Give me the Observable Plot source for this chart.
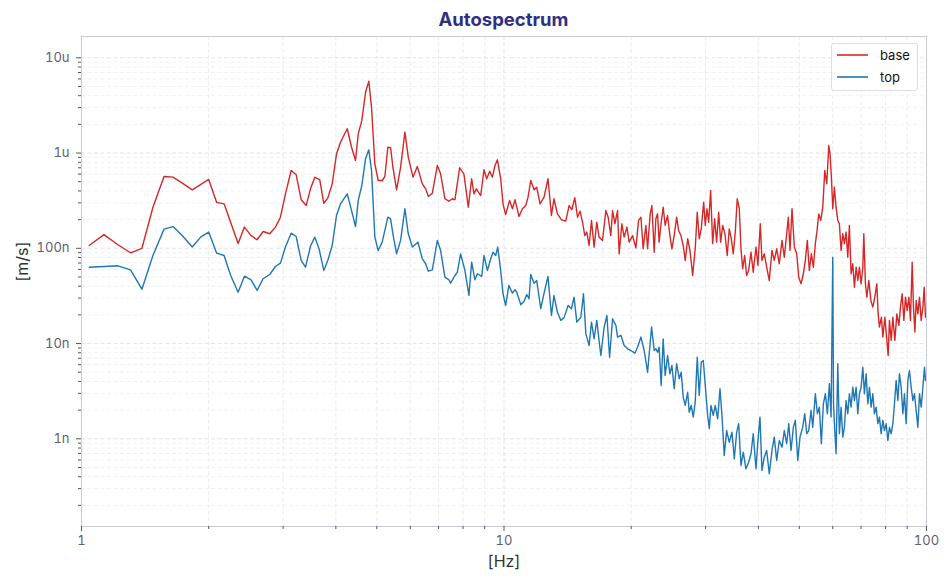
<!DOCTYPE html>
<html>
<head>
<meta charset="utf-8">
<script src="https://cdn.jsdelivr.net/npm/d3@7"></script>
<script src="https://cdn.jsdelivr.net/npm/@observablehq/plot@0.6"></script>
<style>
  html, body { margin: 0; padding: 0; background: #fff; }
  #wrap { position: relative; width: 949px; height: 587px; font-family: Inter, "DejaVu Sans", sans-serif; }
  #title { height: 30px; width: 845px; margin-left: 81px; text-align: center; font-weight: 700; font-size: 18.5px; line-height: 39px; color: #2f2f82; }
  #legend { position: absolute; left: 831px; top: 43px; width: 85px; height: 46px; border: 1px solid #dcdde3; border-radius: 3px; background: #fff; font-size: 13px; color: #111; }
  .row { position: absolute; left: 0; height: 20px; display: flex; align-items: center; }
  .row svg { margin-left: 5px; }
  .row span { margin-left: 12px; }
</style>
</head>
<body>
<div id="wrap">
  <div id="title">Autospectrum</div>
  <div id="chart"></div>
  <div id="legend"></div>
</div>
<script>
// ---- data: frequency [Hz] and autospectrum [m/s] ----
const baseHz = [
  1.043,1.130,1.220,1.306,1.390,1.476,1.568,1.647,1.729,1.829,
  2.000,2.089,2.175,2.348,2.430,2.520,2.604,2.691,2.790,2.877,
  2.957,3.039,3.135,3.222,3.311,3.402,3.483,3.566,3.664,3.745,
  3.827,3.921,4.014,4.102,4.256,4.357,4.452,4.519,4.608,4.702,
  4.787,4.858,4.946,5.039,5.149,5.224,5.310,5.390,
  5.458,5.569,5.692,5.827,5.935,6.090,6.235,6.407,6.524,6.622,
  6.767,6.954,7.079,7.247,7.407,7.545,7.653,7.852,8.037,8.232,
  8.383,8.489,8.601,8.808,8.966,9.100,9.250,9.386,9.521,9.647,
  9.822,9.945,10.09,10.31,10.47,10.62,
  10.85,11.06,11.26,11.40,11.57,11.78,11.95,12.17,12.44,12.71,
  12.95,13.13,13.38,13.68,14.00,14.26,14.47,14.71,14.93,15.14,
  15.34,15.53,15.70,15.90,16.11,16.34,16.58,16.79,17.11,17.42,
  17.64,17.90,18.07,18.30,18.57,18.73,19.01,19.25,19.54,19.78,
  20.15,20.52,20.82,21.09,21.35,21.67,21.87,22.18,22.39,22.67,
  22.88,23.09,23.29,23.51,23.81,24.07,24.39,24.70,24.97,25.28,
  25.62,25.90,26.23,26.56,26.85,27.21,27.55,27.96,28.35,28.67,
  28.98,29.30,29.69,29.95,30.23,30.51,30.84,31.18,31.52,31.86,
  32.22,32.57,32.93,33.34,33.76,34.13,34.51,34.88,35.27,35.65,
  36.05,36.38,36.72,37.12,37.52,37.93,38.42,
  38.90,39.48,39.91,40.42,40.79,41.31,41.85,42.45,43.08,43.62,
  44.20,44.83,45.50,46.07,46.68,47.09,47.53,48.05,48.66,49.30,
  49.84,50.47,51.11,51.67,52.23,52.81,53.39,53.97,54.57,55.08,
  55.59,56.20,56.82,57.44,58.07,58.71,59.12,59.55,60.00,60.53,
  61.09,61.66,62.20,62.78,63.37,63.92,64.52,65.12,65.69,66.30,
  66.92,67.51,68.14,68.77,69.38,70.02,70.68,71.06,71.69,72.24,
  73.03,73.83,74.64,75.46,76.28,76.83,77.38,78.23,78.83,79.70,
  80.57,81.14,81.72,82.49,83.25,84.16,85.08,86.02,86.77,87.58,
  88.39,89.17,90.00,90.84,91.63,92.49,93.15,93.87,94.53,95.41,
  96.25,97.14,98.05,98.75,99.45
];
const baseVal = [
  1.07e-7,1.39e-7,1.09e-7,8.97e-8,1.00e-7,2.70e-7,5.67e-7,5.58e-7,4.87e-7,4.11e-7,
  5.28e-7,3.03e-7,2.93e-7,1.12e-7,1.67e-7,1.36e-7,1.23e-7,1.50e-7,1.42e-7,1.67e-7,
  2.12e-7,3.73e-7,6.56e-7,5.91e-7,3.23e-7,2.81e-7,4.21e-7,5.58e-7,5.24e-7,2.97e-7,
  3.36e-7,4.75e-7,9.82e-7,1.30e-6,1.80e-6,1.15e-6,8.35e-7,1.59e-6,2.20e-6,4.35e-6,
  5.68e-6,3.03e-6,7.71e-7,5.15e-7,5.15e-7,5.67e-7,1.15e-6,1.14e-6,
  7.10e-7,4.11e-7,7.10e-7,1.66e-6,9.05e-7,5.58e-7,7.22e-7,4.75e-7,4.21e-7,3.50e-7,
  3.79e-7,7.40e-7,6.05e-7,3.31e-7,3.12e-7,3.31e-7,3.23e-7,7.00e-7,6.05e-7,2.70e-7,
  5.37e-7,3.73e-7,4.21e-7,3.58e-7,6.67e-7,5.37e-7,6.45e-7,5.58e-7,7.40e-7,8.49e-7,
  5.37e-7,2.93e-7,2.26e-7,3.18e-7,2.60e-7,3.23e-7,
  2.16e-7,2.60e-7,2.81e-7,3.44e-7,5.15e-7,4.11e-7,4.38e-7,2.93e-7,3.44e-7,5.37e-7,
  2.21e-7,3.31e-7,2.30e-7,1.99e-7,1.93e-7,2.81e-7,2.54e-7,3.39e-7,2.12e-7,2.45e-7,
  1.88e-7,1.36e-7,1.48e-7,1.07e-7,1.96e-7,1.03e-7,1.88e-7,1.31e-7,1.21e-7,2.49e-7,
  2.12e-7,1.36e-7,2.49e-7,1.81e-7,2.49e-7,8.75e-8,1.81e-7,1.31e-7,1.67e-7,1.16e-7,
  1.36e-7,1.01e-7,1.96e-7,2.12e-7,9.88e-8,1.74e-7,9.88e-8,2.30e-7,2.81e-7,9.10e-8,
  2.04e-7,2.30e-7,1.16e-7,1.74e-7,2.70e-7,1.74e-7,2.21e-7,1.36e-7,9.88e-8,1.36e-7,
  2.12e-7,1.54e-7,1.36e-7,1.07e-7,7.45e-8,1.26e-7,9.48e-8,5.18e-8,9.88e-8,2.39e-7,
  1.26e-7,1.60e-7,3.05e-7,1.74e-7,2.60e-7,1.88e-7,4.05e-7,1.12e-7,2.04e-7,1.16e-7,
  2.39e-7,1.16e-7,1.74e-7,1.42e-7,8.40e-8,1.60e-7,1.26e-7,8.75e-8,1.48e-7,3.31e-7,
  2.60e-7,9.88e-8,6.09e-8,8.40e-8,5.18e-8,5.85e-8,9.10e-8,
  5.61e-8,1.03e-7,6.60e-8,1.81e-7,7.45e-8,8.75e-8,6.33e-8,4.59e-8,9.48e-8,7.45e-8,
  9.88e-8,6.88e-8,1.21e-7,8.06e-8,1.42e-7,2.12e-7,9.48e-8,2.60e-7,1.03e-7,8.75e-8,
  4.97e-8,4.24e-8,5.40e-8,7.45e-8,1.21e-7,5.85e-8,8.75e-8,6.33e-8,1.12e-7,1.54e-7,
  2.30e-7,1.96e-7,2.70e-7,6.56e-7,4.76e-7,1.20e-6,9.82e-7,5.58e-7,2.60e-7,4.38e-7,
  2.70e-7,1.96e-7,1.81e-7,9.48e-8,1.42e-7,1.12e-7,1.48e-7,8.06e-8,1.74e-7,5.40e-8,
  6.88e-8,3.90e-8,6.33e-8,4.59e-8,6.33e-8,4.24e-8,6.33e-8,1.42e-7,4.24e-8,3.07e-8,
  4.59e-8,2.83e-8,2.41e-8,3.07e-8,4.24e-8,2.05e-8,1.49e-8,1.89e-8,1.17e-8,1.89e-8,
  1.08e-8,7.49e-9,1.75e-8,1.08e-8,1.89e-8,1.08e-8,2.05e-8,1.55e-8,2.41e-8,3.33e-8,
  1.75e-8,3.07e-8,2.22e-8,3.07e-8,1.75e-8,7.15e-8,2.41e-8,1.32e-8,2.83e-8,2.05e-8,
  3.07e-8,1.75e-8,2.41e-8,3.90e-8,1.89e-8
];
const topHz = [
  1.043,1.130,1.220,1.306,1.390,1.476,1.568,1.647,1.729,1.829,
  1.914,2.000,2.089,2.175,2.255,2.348,2.430,2.520,2.604,2.691,
  2.790,2.877,2.957,3.039,3.135,3.222,3.311,3.390,3.483,3.566,
  3.650,3.745,3.827,3.921,4.014,4.102,4.256,4.357,4.452,4.519,
  4.608,4.702,4.787,4.858,4.947,5.036,5.149,5.310,5.390,
  5.458,5.569,5.692,5.827,5.935,6.070,6.255,6.407,6.524,6.622,
  6.767,6.954,7.079,7.247,7.407,7.476,7.611,7.754,7.895,8.082,
  8.260,8.383,8.535,8.650,8.857,8.966,9.135,9.302,9.417,9.557,
  9.663,9.822,9.945,10.09,10.27,10.47,10.62,
  10.72,10.96,11.15,11.32,11.46,11.57,11.78,11.95,12.22,12.44,
  12.71,12.95,13.13,13.38,13.63,13.87,14.18,14.44,14.65,14.87,
  15.20,15.42,15.62,15.90,16.11,16.34,16.58,16.95,17.26,17.52,
  17.78,18.07,18.40,18.57,18.91,19.25,19.61,19.96,20.40,20.71,
  21.09,21.47,21.87,22.35,22.67,
  22.88,23.09,23.29,23.55,23.81,24.07,24.39,24.70,24.97,25.28,
  25.62,25.99,26.27,26.56,26.85,27.21,27.44,27.74,28.05,28.35,
  28.67,28.98,29.30,29.62,29.95,30.34,30.61,30.89,31.28,31.62,
  32.04,32.45,32.80,33.21,33.65,34.13,34.64,35.08,35.54,35.93,
  36.38,36.84,37.38,37.93,38.42,
  38.90,39.48,39.91,40.35,40.79,41.31,41.85,42.45,43.08,43.62,
  44.20,44.83,45.50,46.07,46.68,47.20,47.79,48.40,48.93,49.58,
  50.19,50.93,51.50,52.06,52.63,53.30,53.80,54.57,55.17,55.77,
  56.38,57.00,57.63,58.26,58.90,59.45,60.00,60.25,60.66,61.09,
  61.66,62.20,
  62.78,63.37,63.92,64.52,65.12,65.69,66.30,66.92,67.51,68.14,
  68.77,69.38,70.02,70.68,71.29,71.96,72.63,73.27,73.95,74.64,
  75.29,75.99,76.70,77.38,78.10,78.83,79.53,80.27,81.01,81.72,
  82.49,83.25,83.98,84.76,85.55,86.30,87.10,87.91,88.68,89.51,
  90.34,91.13,91.98,92.84,93.66,94.53,95.41,96.25,97.14,98.05,
  98.91,99.45
];
const topVal = [
  6.33e-8,6.45e-8,6.55e-8,5.94e-8,3.72e-8,8.40e-8,1.59e-7,1.69e-7,1.37e-7,1.03e-7,
  1.31e-7,1.48e-7,8.89e-8,8.40e-8,5.18e-8,3.46e-8,5.09e-8,4.67e-8,3.61e-8,4.79e-8,
  5.31e-8,6.44e-8,6.98e-8,1.03e-7,1.44e-7,1.33e-7,7.45e-8,6.33e-8,1.05e-7,1.31e-7,
  9.88e-8,5.85e-8,7.45e-8,1.07e-7,2.21e-7,2.93e-7,3.73e-7,2.49e-7,1.69e-7,3.18e-7,
  4.56e-7,8.70e-7,1.08e-6,6.56e-7,1.31e-7,9.48e-8,1.16e-7,2.12e-7,2.04e-7,
  1.42e-7,8.75e-8,1.21e-7,2.60e-7,1.42e-7,1.03e-7,1.16e-7,7.76e-8,6.88e-8,5.75e-8,
  5.94e-8,1.21e-7,9.48e-8,4.97e-8,4.67e-8,4.30e-8,4.97e-8,5.61e-8,8.75e-8,5.85e-8,
  3.20e-8,7.15e-8,4.67e-8,5.40e-8,5.06e-8,8.40e-8,5.85e-8,7.76e-8,9.10e-8,8.40e-8,
  1.03e-7,5.85e-8,3.33e-8,2.51e-8,4.07e-8,3.38e-8,3.67e-8,
  3.46e-8,2.55e-8,2.76e-8,3.27e-8,2.95e-8,5.31e-8,4.30e-8,4.59e-8,2.32e-8,3.38e-8,
  5.06e-8,1.97e-8,3.19e-8,2.13e-8,1.75e-8,1.87e-8,2.51e-8,2.32e-8,3.07e-8,1.68e-8,
  1.89e-8,3.33e-8,1.27e-8,9.54e-9,1.68e-8,1.12e-8,1.75e-8,7.49e-9,1.49e-8,1.97e-8,
  7.19e-9,1.82e-8,1.55e-8,1.17e-8,1.22e-8,9.54e-9,8.81e-9,8.45e-9,7.92e-9,9.16e-9,
  1.17e-8,8.45e-9,5.00e-9,1.49e-8,8.45e-9,
  8.81e-9,8.11e-9,9.16e-9,3.63e-9,1.12e-8,4.62e-9,7.49e-9,4.81e-9,5.88e-9,3.35e-9,
  6.13e-9,4.27e-9,5.00e-9,2.73e-9,2.24e-9,3.08e-9,1.90e-9,2.24e-9,1.69e-9,2.42e-9,
  7.19e-9,2.85e-9,6.37e-9,6.64e-9,3.63e-9,1.76e-9,1.28e-9,2.24e-9,1.76e-9,2.24e-9,
  1.62e-9,3.35e-9,1.76e-9,6.68e-10,1.22e-9,9.21e-10,1.17e-9,6.17e-10,1.17e-9,1.44e-9,
  5.24e-10,7.23e-10,4.84e-10,5.68e-10,6.96e-10,
  1.13e-9,4.84e-10,9.60e-10,1.69e-9,4.65e-10,6.41e-10,7.54e-10,4.29e-10,7.54e-10,1.04e-9,
  5.92e-10,9.60e-10,8.16e-10,1.22e-9,8.86e-10,1.44e-9,7.54e-10,1.32e-9,1.56e-9,5.92e-10,
  1.04e-9,1.32e-9,1.83e-9,1.13e-9,1.22e-9,1.98e-9,1.32e-9,2.97e-9,1.83e-9,2.15e-9,
  8.86e-10,2.33e-9,2.97e-9,1.83e-9,3.78e-9,1.69e-9,8.06e-8,2.33e-9,1.22e-9,6.96e-10,
  6.13e-9,1.13e-9,
  2.15e-9,1.04e-9,1.32e-9,2.52e-9,1.83e-9,2.97e-9,2.15e-9,3.48e-9,2.52e-9,3.48e-9,
  1.83e-9,2.97e-9,3.48e-9,5.64e-9,2.97e-9,4.81e-9,2.33e-9,3.48e-9,2.15e-9,2.97e-9,
  1.83e-9,2.15e-9,1.44e-9,1.69e-9,1.13e-9,1.56e-9,1.22e-9,1.44e-9,9.60e-10,1.32e-9,
  1.13e-9,1.44e-9,2.33e-9,4.09e-9,2.52e-9,4.81e-9,3.48e-9,1.83e-9,2.97e-9,1.44e-9,
  4.09e-9,5.21e-9,3.48e-9,2.52e-9,2.97e-9,1.98e-9,1.32e-9,2.97e-9,2.15e-9,3.48e-9,
  5.64e-9,4.09e-9
];
const seriesNames = ["base", "top"];
const seriesColors = ["#d62728", "#1f77b4"];
const xMajor = [1, 10, 100];
const xMajorLabels = ["1", "10", "100"];
const xMinor = [2, 3, 4, 5, 6, 7, 8, 9, 20, 30, 40, 50, 60, 70, 80, 90];
const yMajor = [1e-9, 1e-8, 1e-7, 1e-6, 1e-5];
const yMajorLabels = ["1n", "10n", "100n", "1u", "10u"];
const yMinor = [2e-10,3e-10,4e-10,5e-10,6e-10,7e-10,8e-10,9e-10,
  2e-9,3e-9,4e-9,5e-9,6e-9,7e-9,8e-9,9e-9,
  2e-8,3e-8,4e-8,5e-8,6e-8,7e-8,8e-8,9e-8,
  2e-7,3e-7,4e-7,5e-7,6e-7,7e-7,8e-7,9e-7,
  2e-6,3e-6,4e-6,5e-6,6e-6,7e-6,8e-6,9e-6];

if (baseHz.length !== baseVal.length || topHz.length !== topVal.length) {
  throw new Error("length mismatch base " + baseHz.length + "/" + baseVal.length + " top " + topHz.length + "/" + topVal.length);
}

const base = baseHz.map((f, i) => ({f, v: baseVal[i]}));
const topS = topHz.map((f, i) => ({f, v: topVal[i]}));

const gridDash = "4,2.5";
const chart = Plot.plot({
  width: 949,
  height: 557,
  marginLeft: 81,
  marginRight: 23,
  marginTop: 6,
  marginBottom: 61,
  style: {fontFamily: "Inter, 'DejaVu Sans', sans-serif", fontSize: "13px", background: "#fff", overflow: "visible"},
  x: {type: "log", domain: [1, 100]},
  y: {type: "log", domain: [1.2e-10, 1.673e-5]},
  marks: [
    Plot.ruleX(xMinor, {stroke: "#e6e6ee", strokeWidth: 0.8, strokeDasharray: gridDash}),
    Plot.ruleY(yMinor, {stroke: "#ececf1", strokeWidth: 0.8, strokeDasharray: gridDash}),
    Plot.ruleX(xMajor, {stroke: "#dcdce6", strokeWidth: 0.8, strokeDasharray: gridDash}),
    Plot.ruleY(yMajor, {stroke: "#dcdce6", strokeWidth: 0.8, strokeDasharray: gridDash}),
    Plot.line(base, {x: "f", y: "v", stroke: seriesColors[0], strokeWidth: 1.4}),
    Plot.line(topS, {x: "f", y: "v", stroke: seriesColors[1], strokeWidth: 1.4}),
    Plot.frame({stroke: "#c9cbda", strokeWidth: 1}),
    Plot.axisX({ticks: xMajor, tickFormat: d => xMajorLabels[xMajor.indexOf(d)], tickSize: 5, tickPadding: 4, label: null, stroke: "#555", fill: "#5d6173", fontSize: 13}),
    Plot.axisX({ticks: xMinor, tickFormat: () => "", tickSize: 3, label: null, stroke: "#555"}),
    Plot.axisY({ticks: yMajor, tickFormat: d => yMajorLabels[yMajor.indexOf(d)], tickSize: 5, tickPadding: 7, label: null, stroke: "#555", fill: "#5d6173", fontSize: 13}),
    Plot.axisY({ticks: yMinor, tickFormat: () => "", tickSize: 3, label: null, stroke: "#555"}),
    Plot.text(["[Hz]"], {text: d => d, frameAnchor: "bottom", dy: 40, fontSize: 16, fill: "#333"}),
    Plot.text(["[m/s]"], {text: d => d, frameAnchor: "left", dx: -59, rotate: -90, fontSize: 16, fill: "#333"})
  ]
});
document.getElementById("chart").appendChild(chart);

// legend
const legend = document.getElementById("legend");
seriesNames.forEach((name, i) => {
  const row = document.createElement("div");
  row.className = "row";
  row.style.top = (i === 0 ? 1 : 23) + "px";
  row.innerHTML = `<svg width="31" height="4"><line x1="0" y1="2" x2="31" y2="2" stroke="${seriesColors[i]}" stroke-width="1.6"/></svg><span>${name}</span>`;
  legend.appendChild(row);
});
</script>
</body>
</html>
